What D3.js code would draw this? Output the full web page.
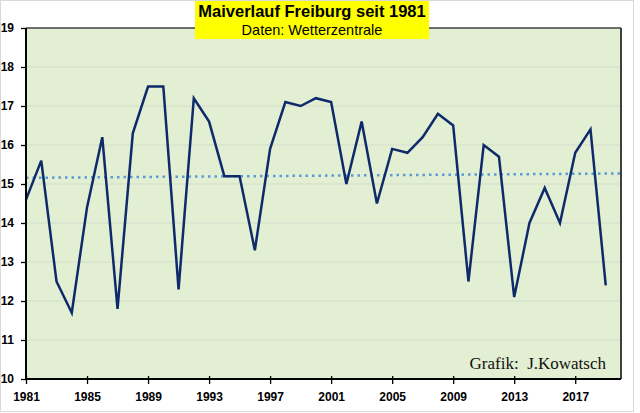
<!DOCTYPE html>
<html><head><meta charset="utf-8">
<script src="https://cdn.jsdelivr.net/npm/d3@7"></script>
<style>body{margin:0;background:#fff}svg{display:block}</style>
</head><body>
<svg id="c" width="640" height="413"></svg>
<script>
const years = d3.range(1981, 2020);
const temps = [14.6,15.6,12.5,11.7,14.4,16.2,11.8,16.3,17.5,17.5,12.3,17.2,16.6,15.2,15.2,13.3,15.9,17.1,17.0,17.2,17.1,15.0,16.6,14.5,15.9,15.8,16.2,16.8,16.5,12.5,16.0,15.7,12.1,14.0,14.9,14.0,15.8,16.4,12.4];
const xTickYears = [1981,1985,1989,1993,1997,2001,2005,2009,2013,2017];
const yTicks = [10,11,12,13,14,15,16,17,18,19];
const title = "Maiverlauf Freiburg seit 1981";
const subtitle = "Daten: Wetterzentrale";
const credit = "Grafik:  J.Kowatsch";

const svg = d3.select("#c");
const L = 26, R = 621, T = 28, B = 379;
const x = d3.scaleLinear().domain([1981, 2020]).range([L, R]);
const y = d3.scaleLinear().domain([10, 19]).range([B, T]);

// chart area border
svg.append("rect").attr("x",0.5).attr("y",0.5).attr("width",633).attr("height",411)
  .attr("fill","#fff").attr("stroke","#d9d9d9");

// plot background
svg.append("rect").attr("x",L).attr("y",T).attr("width",R-L).attr("height",B-T).attr("fill","#e2efd2");

// gridlines
svg.append("g").selectAll("line").data(yTicks.filter(v=>v>10 && v<19)).join("line")
  .attr("x1",L).attr("x2",R).attr("y1",d=>y(d)).attr("y2",d=>y(d))
  .attr("stroke","#d6dccc").attr("stroke-width",1);

// top/right border
svg.append("line").attr("x1",L).attr("x2",R).attr("y1",T).attr("y2",T).attr("stroke","#404040").attr("stroke-width",1.5);
svg.append("line").attr("x1",R).attr("x2",R).attr("y1",T).attr("y2",B).attr("stroke","#404040").attr("stroke-width",2);

// trend (linear regression)
const n = years.length;
const mx = d3.mean(years), my = d3.mean(temps);
const slope = d3.sum(years.map((yr,i)=>(yr-mx)*(temps[i]-my))) / d3.sum(years.map(yr=>(yr-mx)**2));
const icpt = my - slope*mx;
const trendX = [1981, 2020];
svg.append("path").datum(trendX)
  .attr("d", d3.line().x(d=>x(d)).y(d=>y(icpt+slope*d)))
  .attr("fill","none").attr("stroke","#5b9bd5").attr("stroke-width",2.5)
  .attr("stroke-dasharray","2.5,4");

// data line
svg.append("path").datum(years.map((yr,i)=>[yr,temps[i]]))
  .attr("d", d3.line().x(d=>x(d[0])).y(d=>y(d[1])))
  .attr("fill","none").attr("stroke","#0e2a6b").attr("stroke-width",2.5).attr("stroke-linejoin","miter");

// axes
const yAxis = d3.axisLeft(y).tickValues(yTicks).tickSize(5).tickPadding(7).tickFormat(d3.format("d"));
const gy = svg.append("g").attr("transform",`translate(${L},0)`).call(yAxis);
const xAxis = d3.axisBottom(x).tickValues(xTickYears).tickSize(5).tickPadding(8).tickFormat(d3.format("d"));
const gx = svg.append("g").attr("transform",`translate(0,${B})`).call(xAxis);
[gx,gy].forEach(g=>{
  g.select(".domain").remove();
  g.selectAll("line").attr("stroke","#000").attr("stroke-width",1.3);
  g.selectAll("text").attr("font-family","Liberation Sans, Arial, sans-serif")
    .attr("font-weight","bold").attr("font-size","12px").attr("fill","#000");
});
gx.selectAll(".tick line").attr("y1",-3).attr("y2",5);
svg.append("line").attr("x1",L).attr("x2",L).attr("y1",T).attr("y2",B+1).attr("stroke","#000").attr("stroke-width",2);
svg.append("line").attr("x1",L-1).attr("x2",R).attr("y1",B).attr("y2",B).attr("stroke","#000").attr("stroke-width",2);

// title box
svg.append("rect").attr("x",195).attr("y",1).attr("width",234).attr("height",38).attr("fill","#ffff00");
svg.append("text").attr("x",312).attr("y",17).attr("text-anchor","middle")
  .attr("font-family","Liberation Sans, Arial, sans-serif").attr("font-weight","bold").attr("font-size","16.5px")
  .text(title);
svg.append("text").attr("x",312).attr("y",35).attr("text-anchor","middle")
  .attr("font-family","Liberation Sans, Arial, sans-serif").attr("font-size","14.5px")
  .text(subtitle);

// credit
svg.append("text").attr("x",606).attr("y",369).attr("text-anchor","end")
  .attr("font-family","Liberation Serif, Times New Roman, serif").attr("font-size","17px").attr("fill","#111")
  .attr("xml:space","preserve").style("white-space","pre")
  .text(credit);
</script>
</body></html>
